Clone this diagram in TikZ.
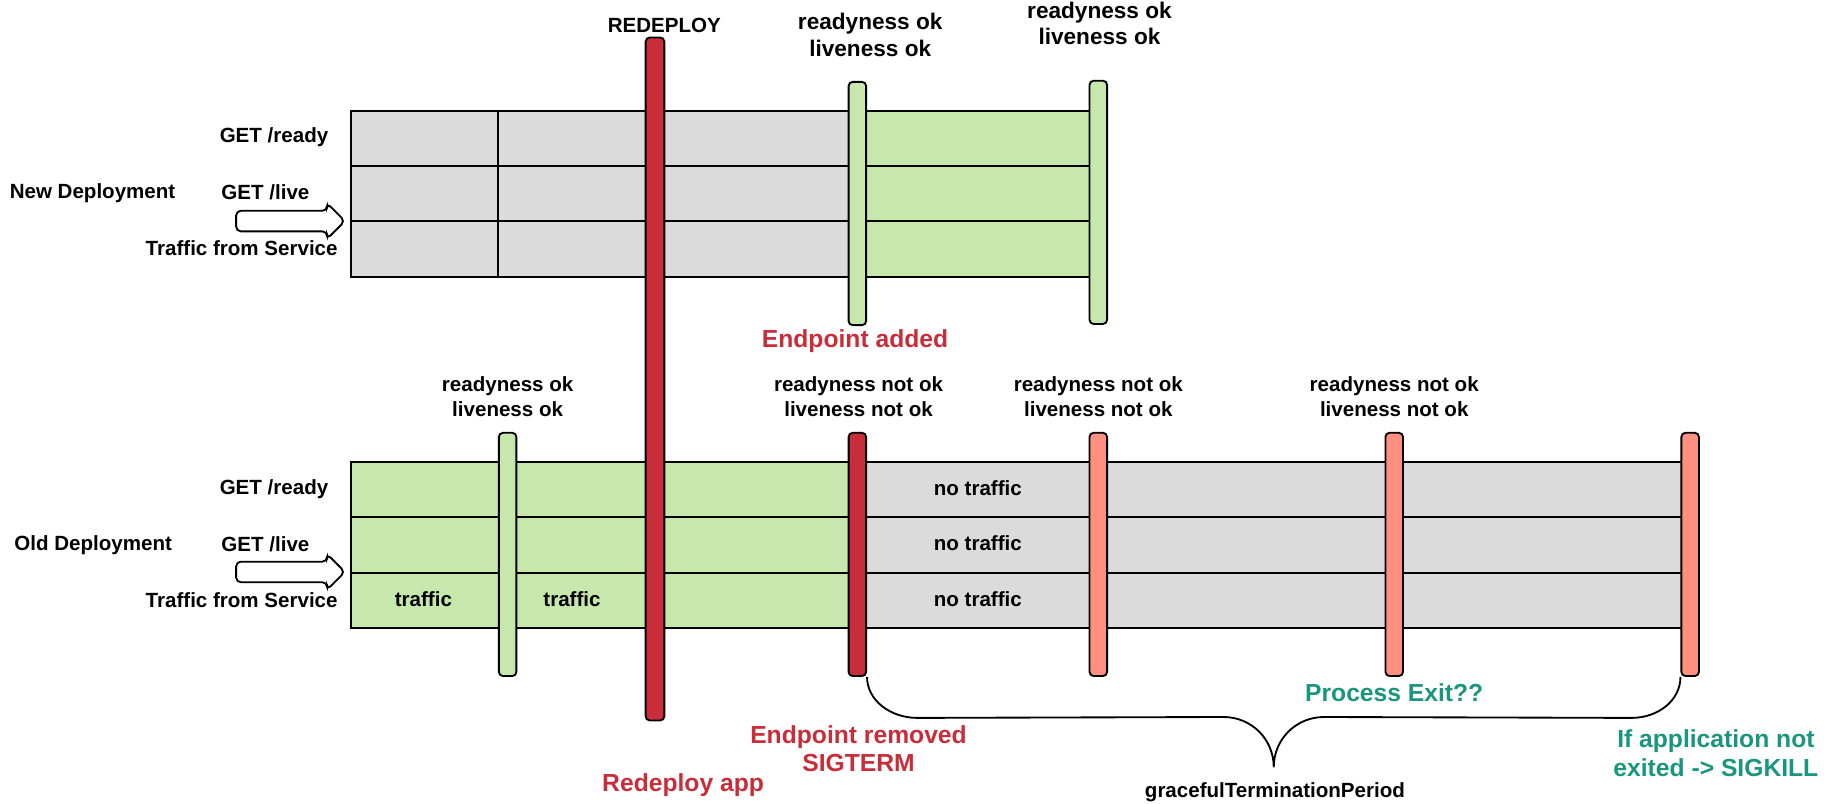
\documentclass[tikz,border=0pt]{standalone}
\usepackage{fontspec}
\setmainfont{Liberation Sans}
\usepackage{tikz}
\usetikzlibrary{calc,positioning,shapes.arrows}
\definecolor{colorok}{HTML}{C7E8AC}
\definecolor{colorgray}{HTML}{DBDBDB}
\definecolor{colorterm}{HTML}{C92D39}
\definecolor{colorwait}{HTML}{FF8F80}
\definecolor{colorexit}{HTML}{19967D}
\tikzset{lbl/.style={draw=none, inner sep=0pt, align=center, font=\bfseries\fontsize{10}{12}\selectfont}}
\tikzset{biglbl/.style={lbl, font=\bfseries\fontsize{11}{13}\selectfont}}
\tikzset{redlbl/.style={lbl, text=colorterm, font=\bfseries\fontsize{12}{14}\selectfont}}
\tikzset{teallbl/.style={lbl, text=colorexit, font=\bfseries\fontsize{12}{14}\selectfont}}
\tikzset{bar/.style={draw, line width=0.9pt, rounded corners=0.7mm, minimum width=3mm, minimum height=4.16cm, inner sep=0pt}}
\tikzset{okbar/.style={bar, fill=colorok}}
\tikzset{termbar/.style={bar, fill=colorterm}}
\tikzset{waitbar/.style={bar, fill=colorwait}}
\tikzset{cell/.style={draw, line width=0.9pt}}
\tikzset{flow/.style={single arrow, draw, fill=white, line width=0.9pt, inner sep=0.16cm,
  minimum height=1.86cm, single arrow head extend=0.13cm, rounded corners=0.8mm}}
\tikzset{bracepath/.style={draw, line width=0.9pt}}

\begin{document}
\begin{tikzpicture}[x=0.02cm, y=-0.02cm]
\useasboundingbox (0,0) rectangle (1568,687);

% new deployment
\fill[colorgray] (300,95) rectangle (733,237);
\fill[colorok] (733,95) rectangle (939,237);
\draw[cell] (300,95) rectangle (939,237);
\draw[cell] (300,142) -- (939,142);
\draw[cell] (300,189) -- (939,189);
\draw[cell] (426,95) -- (426,237);

\node[lbl, anchor=west](newdep) at (8,165) {New Deployment};
\node[lbl, anchor=east](newready) at (281,117) {GET /ready};
\node[lbl, anchor=west](newlive) at (189,164) {GET /live};
\node[lbl, anchor=east](newtraffic) at (289,212) {Traffic from Service};
\node[flow](newflow) at (244,189) {};

\node[okbar](newok1) at (733,174) {};
\node[okbar](newok2) at (939,173) {};
\node[biglbl](newok1lbl) at (744,30) {readyness ok\\liveness ok};
\node[biglbl](newok2lbl) at (940,20) {readyness ok\\liveness ok};
\node[redlbl](added) at (731,292) {Endpoint added};

% old deployment
\fill[colorok] (300,395) rectangle (733,537);
\fill[colorgray] (733,395) rectangle (1445,537);
\draw[cell] (300,395) rectangle (1445,537);
\draw[cell] (300,442) -- (1445,442);
\draw[cell] (300,490) -- (1445,490);

\node[lbl, anchor=west](olddep) at (12,466) {Old Deployment};
\node[lbl, anchor=east](oldready) at (281,418) {GET /ready};
\node[lbl, anchor=west](oldlive) at (189,465) {GET /live};
\node[lbl, anchor=east](oldtraffic) at (289,513) {Traffic from Service};
\node[flow](oldflow) at (244,489) {};

\node[lbl](traffic1) at (362,512) {traffic};
\node[lbl](traffic2) at (489,512) {traffic};
\node[lbl](notraffic1) at (836,417) {no traffic};
\node[lbl](notraffic2) at (836,464) {no traffic};
\node[lbl](notraffic3) at (836,512) {no traffic};

\node[okbar](oldok) at (434,474) {};
\node[termbar](term) at (733,474) {};
\node[waitbar](wait1) at (939,474) {};
\node[waitbar](wait2) at (1192,474) {};
\node[waitbar](kill) at (1445,474) {};

\node[lbl](oldoklbl) at (434,339) {readyness ok\\liveness ok};
\node[lbl](termlbl) at (734,339) {readyness not ok\\liveness not ok};
\node[lbl](wait1lbl) at (939,339) {readyness not ok\\liveness not ok};
\node[lbl](wait2lbl) at (1192,339) {readyness not ok\\liveness not ok};

% redeploy
\node[termbar, minimum width=3.2mm, minimum height=11.68cm](redeploy) at (560,324) {};
\node[lbl](redeploylbl) at (568,22) {REDEPLOY};
\node[redlbl](redeployapp) at (584,671) {Redeploy app};
\node[redlbl](removed) at (734,640) {Endpoint removed\\SIGTERM};

% grace period
\coordinate (tip) at (1089,656);
\draw[bracepath] (term.south east) .. controls +(0,20) and +(-23,0) .. ++(43,35)
  -- ($(tip)+(-43,-43)$) .. controls +(24,0) and +(0,-24) .. (tip)
  .. controls +(0,-24) and +(-24,0) .. ++(43,-43)
  -- ($(kill.south west)+(-42,35)$) .. controls +(23,0) and +(0,20) .. (kill.south west);
\node[teallbl](exit) at (1192,592) {Process Exit??};
\node[lbl](grace) at (1090,677) {gracefulTerminationPeriod};
\node[teallbl](sigkill) at (1467,644) {If application not\\exited -> SIGKILL};
\end{tikzpicture}
\end{document}
